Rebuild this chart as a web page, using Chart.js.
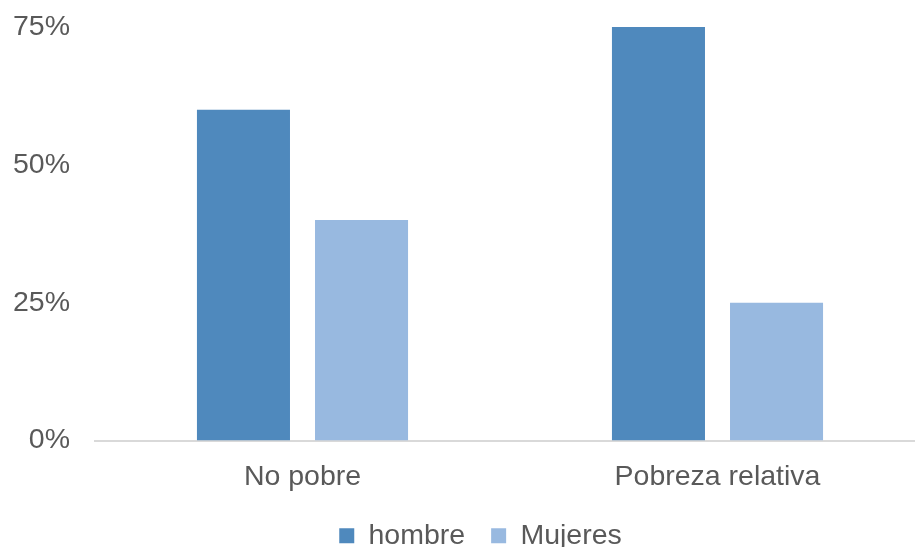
<!DOCTYPE html>
<html>
<head>
<meta charset="utf-8">
<script src="https://cdn.jsdelivr.net/npm/chart.js@4"></script>
<style>
  html, body { margin: 0; padding: 0; background: #fff; overflow: hidden; }
  #wrap { width: 935px; height: 547px; position: relative; }
</style>
</head>
<body>
<div id="wrap"><canvas id="c"></canvas></div>
<script>
const categories = ['No pobre', 'Pobreza relativa'];
const hombre = [60, 75];
const mujeres = [40, 25];
const yTicks = [0, 25, 50, 75];

const font = { family: 'Liberation Sans, Arial, sans-serif', size: 28.5 };
const textColor = '#595959';

// the centred legend sits a bit right of the plot centre in the original
const legendNudge = {
  id: 'legendNudge',
  afterLayout(chart) {
    if (!chart.legend) return;
    chart.legend.left += 12;
    chart.legend.right += 12;
  }
};

new Chart(document.getElementById('c'), {
  type: 'bar',
  data: {
    labels: categories,
    datasets: [
      { label: 'hombre', data: hombre, backgroundColor: '#4f89bd',
        categoryPercentage: 0.569, barPercentage: 0.788 },
      { label: 'Mujeres', data: mujeres, backgroundColor: '#98b9e0',
        categoryPercentage: 0.569, barPercentage: 0.788 }
    ]
  },
  options: {
    responsive: true,
    maintainAspectRatio: false,
    animation: false,
    layout: { padding: { left: 12, right: 10, top: 27, bottom: -13 } },
    scales: {
      x: {
        grid: { display: false, drawTicks: false },
        border: { display: true, color: '#d9d9d9', width: 2 },
        ticks: { font, color: textColor, padding: 20 },
        afterFit: (s) => { s.height = 55; }
      },
      y: {
        min: 0, max: 75,
        afterBuildTicks: (axis) => { axis.ticks = yTicks.map(v => ({ value: v })); },
        grid: { display: false, drawTicks: false },
        border: { display: false },
        ticks: { font, color: textColor, padding: 25, callback: (v) => v + '%' },
        afterFit: (s) => { s.width = 83; s.paddingTop = 0; s.paddingBottom = 0; }
      }
    },
    plugins: {
      legend: {
        position: 'bottom',
        labels: { font, color: textColor, boxWidth: 15, boxHeight: 15, padding: 26 }
      },
      tooltip: { enabled: false }
    }
  },
  plugins: [legendNudge]
});
</script>
</body>
</html>
